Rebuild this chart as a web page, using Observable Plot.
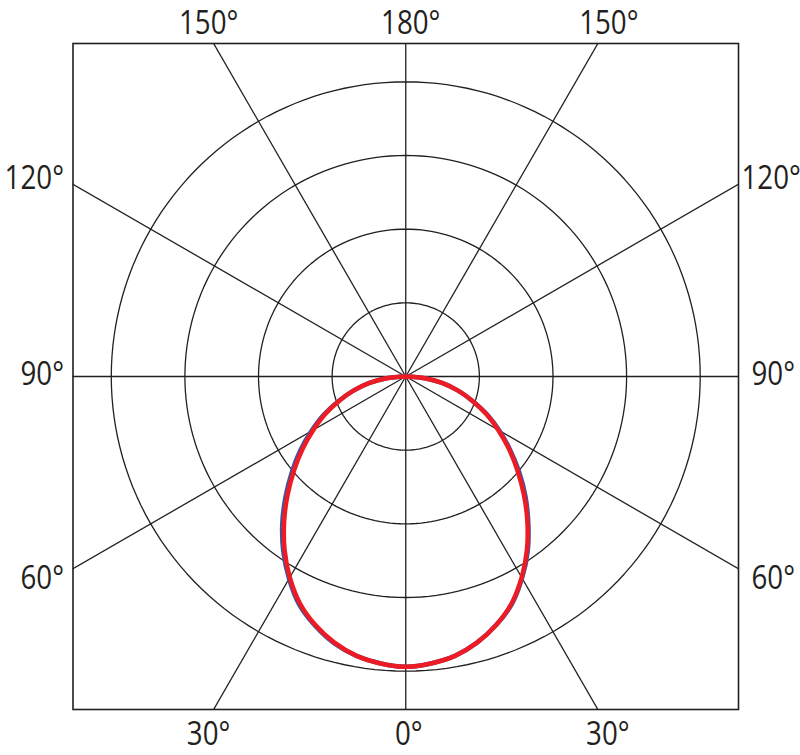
<!DOCTYPE html>
<html>
<head>
<meta charset="utf-8">
<script src="https://cdn.jsdelivr.net/npm/d3@7"></script>
<script src="https://cdn.jsdelivr.net/npm/@observablehq/plot@0.6"></script>
<style>
  html, body { margin: 0; padding: 0; background: #fff; }
  #chart { width: 800px; height: 755px; }
</style>
</head>
<body>
<div id="chart"></div>
<script>
// Polar angles (gamma, degrees from nadir) and intensities (arbitrary units, 100 per ring)
const gammas = [0, 5, 10, 15, 20, 25, 30, 35, 40, 45, 50, 55, 60, 65, 70, 75, 80, 85, 90];
const redLeft   = [394, 391, 385, 374, 359, 340, 315, 287, 257, 227, 198, 171, 145, 121, 96, 73, 50, 26, 0];
const redRight  = [394, 391, 385, 374, 359, 340, 315, 287, 257, 227, 198, 171, 145, 121, 96, 73, 50, 26, 0];
const blueLeft  = [394, 391, 385, 375, 360, 342, 317, 290, 261, 231, 202, 175, 148, 123, 97, 73, 50, 26, 0];
const blueRight = [394, 391, 385, 374, 359, 341, 316, 289, 259, 230, 201, 173, 147, 122, 96, 73, 50, 26, 0];

const ringValues = [100, 200, 300, 400];
const spokeAngles = [0, 30, 60, 90, 120, 150, 180, 210, 240, 270, 300, 330];
const labelAngles = [0, 30, 60, 90, 120, 150, 180];
const labelTexts  = ["0°", "30°", "60°", "90°", "120°", "150°", "180°"];

const LIMIT = 452;
const rad = d => d * Math.PI / 180;

// Build a curve: left half (90 -> 0) then right half (5 -> 90)
function buildCurve(left, right, name) {
  const pts = [];
  for (let i = gammas.length - 1; i >= 0; i--) {
    const a = rad(gammas[i]);
    pts.push({series: name, x: -left[i] * Math.sin(a), y: -left[i] * Math.cos(a)});
  }
  for (let i = 1; i < gammas.length; i++) {
    const a = rad(gammas[i]);
    pts.push({series: name, x: right[i] * Math.sin(a), y: -right[i] * Math.cos(a)});
  }
  return pts;
}
const blueCurve = buildCurve(blueLeft, blueRight, "blue");
const redCurve = buildCurve(redLeft, redRight, "red");

// Rings
const ringPts = [];
for (const r of ringValues) {
  for (let a = 0; a <= 360; a += 2) {
    ringPts.push({ring: r, x: r * Math.sin(rad(a)), y: r * Math.cos(rad(a))});
  }
}
// Spokes
const spokes = spokeAngles.map(a => ({x2: 2000 * Math.sin(rad(a)), y2: -2000 * Math.cos(rad(a))}));

// Label anchor points where spokes meet the frame
function edgePoint(angle, side) {
  const s = Math.abs(Math.sin(rad(angle))), c = Math.cos(rad(angle));
  const t = LIMIT / Math.max(s, Math.abs(c));
  return {x: side * t * s, y: -t * c};
}

const ink = "#231f20";
const font = "'Open Sans', 'Noto Sans', sans-serif";

const labelMarks = [];
labelAngles.forEach((ang, i) => {
  const txt = labelTexts[i];
  for (const side of (ang === 0 || ang === 180) ? [0] : [-1, 1]) {
    const p = edgePoint(ang, side === 0 ? 1 : side);
    const opts = {x: "x", y: "y", text: "t", fontSize: 33, fill: ink, fontFamily: font, className: "deglabel"};
    if (ang <= 30) {
      Object.assign(opts, {dy: 25, textAnchor: "middle", dx: side === 0 ? 3 : (side < 0 ? -5 : 10)});
    } else if (ang >= 150) {
      Object.assign(opts, {dy: -20, textAnchor: "middle", dx: side === 0 ? 5 : (side < 0 ? -5 : 11)});
    } else {
      const dy = ang === 120 ? -6 : ang === 90 ? -2 : 10;
      if (side < 0) Object.assign(opts, {dy, textAnchor: "end", dx: -9});
      else Object.assign(opts, {dy, textAnchor: "start", dx: ang === 120 ? 3 : 13});
    }
    labelMarks.push(Plot.text([{x: p.x, y: p.y, t: txt}], opts));
  }
});

const chart = Plot.plot({
  width: 800,
  height: 755,
  marginLeft: 72.5,
  marginRight: 62,
  marginTop: 43,
  marginBottom: 46,
  x: {domain: [-LIMIT, LIMIT], axis: null},
  y: {domain: [-LIMIT, LIMIT], axis: null},
  style: {background: "#fff", fontFamily: font},
  marks: [
    Plot.line(ringPts, {x: "x", y: "y", z: "ring", stroke: ink, strokeWidth: 1.3}),
    Plot.link(spokes, {x1: () => 0, y1: () => 0, x2: "x2", y2: "y2", stroke: ink, strokeWidth: 1.3, clip: true}),
    Plot.line(blueCurve, {x: "x", y: "y", stroke: "#3a55a4", strokeWidth: 4.5, curve: "catmull-rom"}),
    Plot.line(redCurve, {x: "x", y: "y", stroke: "#ed1c24", strokeWidth: 4.5, curve: "catmull-rom"}),
    Plot.frame({stroke: ink, strokeWidth: 1.6}),
    ...labelMarks
  ]
});
document.getElementById("chart").appendChild(chart);
// condense the degree labels horizontally about their anchor (the reference uses a narrow face)
d3.select(chart).selectAll("g.deglabel text").each(function() {
  const b = this.getBBox();
  const anchor = getComputedStyle(this).textAnchor;
  const ax = anchor === "end" ? b.x + b.width : anchor === "middle" ? b.x + b.width / 2 : b.x;
  const t = this.getAttribute("transform") || "";
  this.setAttribute("transform", `${t} translate(${ax},0) scale(0.84,1) translate(${-ax},0)`.trim());
});
</script>
</body>
</html>
